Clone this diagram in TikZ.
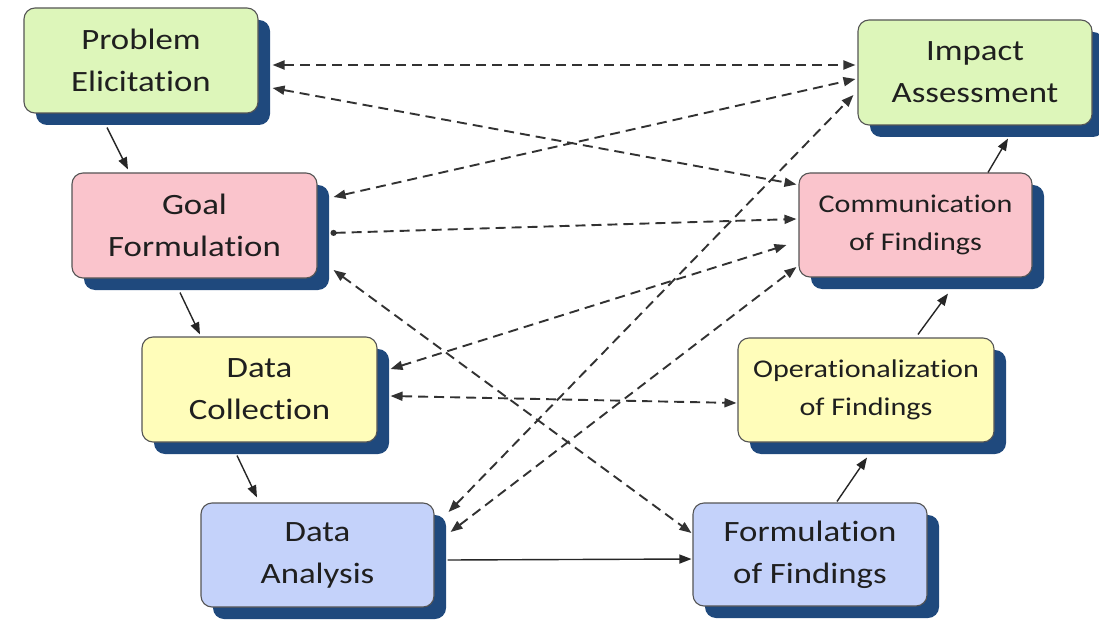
\documentclass[tikz,border=0pt]{standalone}
\usepackage{fontspec}
\setmainfont[FakeStretch=1.18,Ligatures=NoCommon]{Carlito}
\usetikzlibrary{arrows.meta,calc,shadows}
\definecolor{shadowblue}{RGB}{31,73,125}
\definecolor{boxgreen}{RGB}{221,246,186}
\definecolor{boxpink}{RGB}{250,196,204}
\definecolor{boxyellow}{RGB}{255,253,186}
\definecolor{boxblue}{RGB}{196,210,250}
\definecolor{edge}{RGB}{85,85,85}
\definecolor{dline}{RGB}{50,50,50}
\begin{document}
\begin{tikzpicture}[x=1pt,y=-1pt,
  box/.style={draw=edge,line width=1.1pt,rounded corners=11pt,inner sep=0pt,align=center,
    text=black!88,
    drop shadow={shadow xshift=12pt,shadow yshift=-12pt,fill=shadowblue,opacity=1}},
  bigtxt/.style={font=\fontsize{29.5}{42}\selectfont},
  smalltxt/.style={font=\fontsize{25.5}{38}\selectfont},
  flow/.style={draw=black!85,line width=1.4pt,-{Triangle[length=12pt,width=9pt]}},
  link/.style={draw=dline,line width=1.9pt,dash pattern=on 10pt off 6pt,
    {Triangle[length=12pt,width=9pt]}-{Triangle[length=12pt,width=9pt]}},
  onelink/.style={draw=dline,line width=1.9pt,dash pattern=on 10pt off 6pt,
    {Circle[length=6pt]}-{Triangle[length=12pt,width=9pt]}}
]
\useasboundingbox (0,0) rectangle (1099,620);
\node[box,bigtxt,fill=boxgreen,minimum width=234pt,minimum height=105pt] (pe) at (141,60.5) {Problem\\Elicitation};
\node[box,bigtxt,fill=boxpink,minimum width=245pt,minimum height=105pt] (gf) at (194.5,225.5) {Goal\\Formulation};
\node[box,bigtxt,fill=boxyellow,minimum width=235pt,minimum height=105pt] (dc) at (259.5,389.5) {Data\\Collection};
\node[box,bigtxt,fill=boxblue,minimum width=233pt,minimum height=104pt] (da) at (317.5,555) {Data\\Analysis};
\node[box,bigtxt,fill=boxblue,minimum width=234pt,minimum height=103pt] (ff) at (810,554.5) {Formulation\\of Findings};
\node[box,smalltxt,fill=boxyellow,minimum width=256pt,minimum height=104pt] (of) at (866,390) {Operationalization\\of Findings};
\node[box,smalltxt,fill=boxpink,minimum width=233pt,minimum height=104pt] (cf) at (915.5,225) {Communication\\of Findings};
\node[box,bigtxt,fill=boxgreen,minimum width=234pt,minimum height=105pt] (ia) at (975,72.5) {Impact\\Assessment};

% solid flow
\draw[flow] ($(pe.south)+(-34,14)$) -- ($(gf.north)+(-66.5,-3)$);
\draw[flow] ($(gf.south)+(-14.5,14)$) -- ($(dc.north)+(-59.5,-2)$);
\draw[flow] ($(dc.south)+(-22.5,13)$) -- ($(da.north)+(-60.5,-5)$);
\draw[flow] ($(da.east)+(13,5)$) -- ($(ff.west)+(-1,4.5)$);
\draw[flow] ($(ff.north)+(27,-1)$) -- ($(of.south)+(1,15)$);
\draw[flow] ($(of.north)+(52,-3)$) -- ($(cf.south)+(32.5,16)$);
\draw[flow] ($(cf.north)+(72.5,0)$) -- ($(ia.south)+(33,13)$);

% dashed links
\draw[link] ($(pe.east)+(14,4.5)$) -- ($(ia.west)+(-2,-7.5)$);
\draw[link] ($(pe.east)+(14,27.5)$) -- ($(cf.north west)+(-2,12)$);
\draw[link] ($(gf.east)+(16,-28.5)$) -- ($(ia.west)+(-2,6.5)$);
\draw[onelink] ($(gf.east)+(13,7.5)$) -- ($(cf.west)+(-2,-6)$);
\draw[link] ($(gf.east)+(16,44.5)$) -- ($(ff.west)+(-1,-21.5)$);
\draw[link] ($(dc.east)+(13,-20.5)$) -- ($(cf.west)+(-12,20)$);
\draw[link] ($(dc.east)+(13,6.5)$) -- ($(of.west)+(-1,13)$);
\draw[link] ($(da.east)+(14,-43)$) -- ($(ia.west)+(-4,22.5)$);
\draw[link] ($(da.east)+(16,-23)$) -- ($(cf.west)+(-2,42)$);
\end{tikzpicture}
\end{document}
